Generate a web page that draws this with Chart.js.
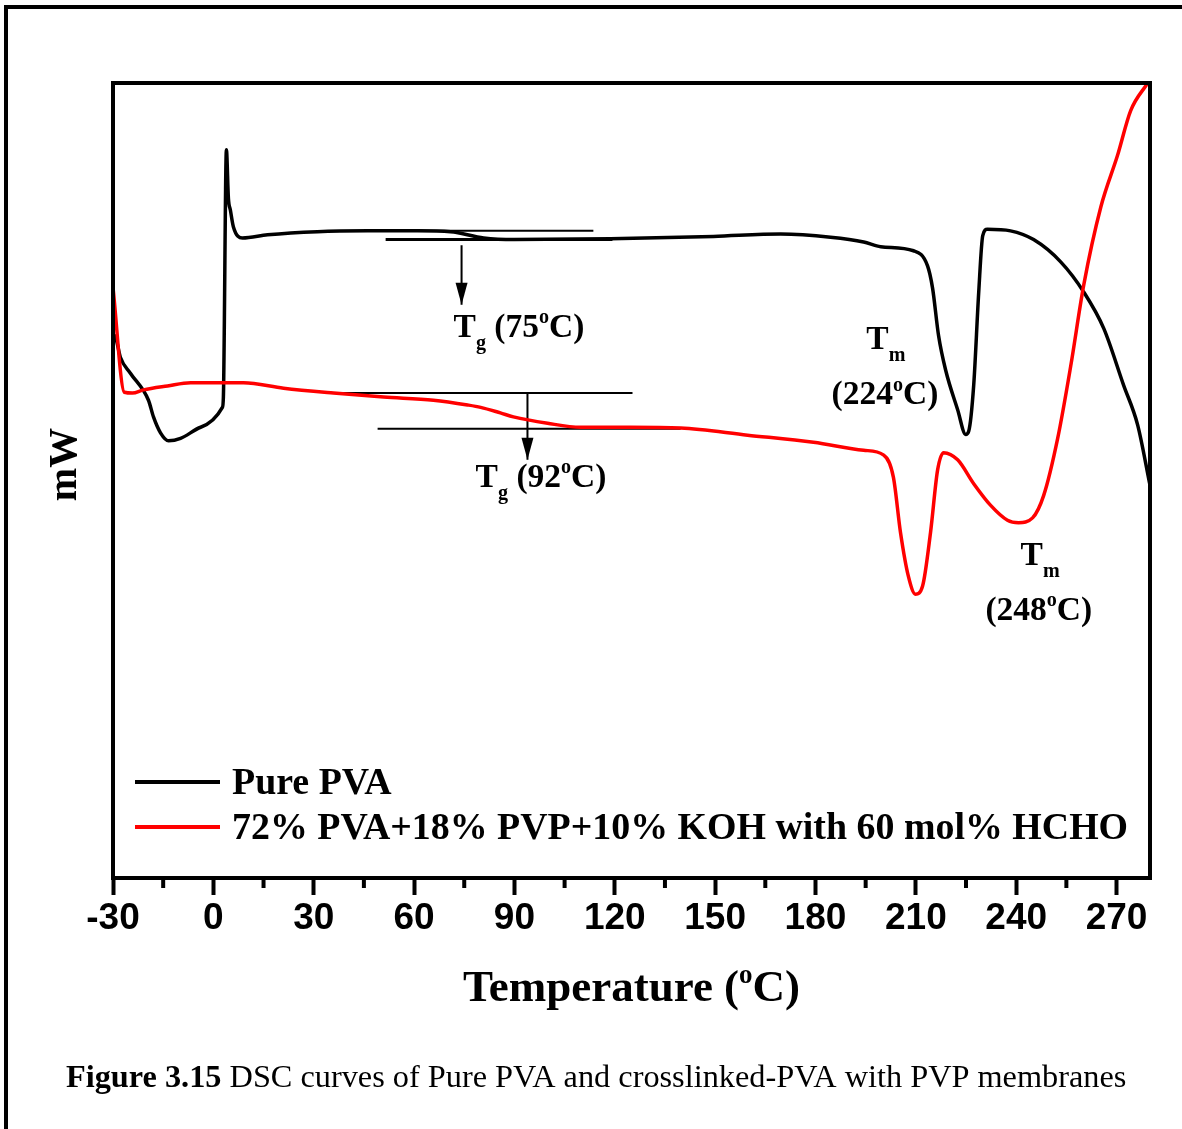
<!DOCTYPE html>
<html>
<head>
<meta charset="utf-8">
<title>DSC curves</title>
<style>
    body { margin: 0; background: #fff; }
    canvas { display: block; }
</style>
</head>
<body>
<canvas id="myChart" width="1182" height="1129"></canvas>
<script src="https://cdn.jsdelivr.net/npm/chart.js"></script>
<script>
// values; heat flow is in arbitrary units (axis has no numbers)
const pvaTemp = [-30, -29.3, -27.8, -24.8, -19.4, -17.9, -15.8, -13.4, -9.8, -3.8, 2.7, 3.0, 3.9, 4.5, 5.1, 6.0, 8.7,
    16.2, 31.1, 46.1, 61.0, 70.9, 80.8, 90, 118.7, 149.5, 169.6, 184.5, 194.4, 199.5, 209.3, 213.5, 215.0, 216.8,
    218.9, 222.5, 224.9, 225.8, 227.3, 228.8, 230.0, 231.4, 238.3, 245.2, 253.3, 260.2, 266.2, 272.1, 276.3, 280];
const pvaFlow = [68.3, 68.1, 65.5, 63.5, 60.1, 58.0, 56.0, 55.0, 55.3, 56.7, 59.2, 60.5, 91.6, 85.5, 84.0, 81.9, 80.5,
    80.9, 81.3, 81.4, 81.4, 81.3, 80.5, 80.3, 80.4, 80.7, 81.0, 80.6, 80.0, 79.4, 78.9, 77.0, 74.2, 68.2,
    63.9, 58.9, 55.8, 56.2, 62.0, 73.7, 80.8, 81.6, 81.4, 80.3, 77.5, 73.7, 69.1, 62.0, 57.0, 49.4];

const blendTemp = [-30, -26.6, -24.2, -20.9, -13.7, -6.8, 1.2, 9.0, 21.0, 35.9, 50.9, 65.8, 76.0, 79.9, 85.8, 89.7,
    99.9, 109.8, 124.7, 139.7, 159.7, 179.4, 194.4, 200.4, 203.3, 205.4, 207.8, 209.9, 212.0, 214.4, 216.5, 218.3,
    222.5, 227.3, 232.3, 237.4, 240.7, 244.9, 248.2, 252.4, 256.3, 260.2, 265.3, 270.3, 274.2, 279.3];
const blendFlow = [74.3, 61.1, 61.0, 61.4, 61.9, 62.3, 62.3, 62.3, 61.6, 61.0, 60.5, 60.1, 59.5, 59.2, 58.5, 58.0,
    57.2, 56.7, 56.7, 56.6, 55.7, 54.8, 53.8, 53.2, 50.4, 43.5, 37.9, 35.7, 36.7, 43.5, 51.3, 53.5,
    52.6, 49.6, 46.9, 45.0, 44.7, 45.3, 48.1, 55.3, 64.4, 74.6, 84.4, 90.9, 96.5, 100];

// Tg construction lines and arrows
const pvaTanUpperT = [51.5, 113.6];
const pvaTanUpperY = [81.4, 81.4];
const pvaTanLowerT = [51.5, 119.3];
const pvaTanLowerY = [80.3, 80.3];
const pvaArrowT = [74.2, 74.2];
const pvaArrowY = [79.6, 72.1];
const blendTanUpperT = [35.6, 125.3];
const blendTanUpperY = [61.0, 61.0];
const blendTanLowerT = [49.1, 139.7];
const blendTanLowerY = [56.5, 56.5];
const blendArrowT = [93.9, 93.9];
const blendArrowY = [61.0, 52.6];

const majorTicks = [-30, 0, 30, 60, 90, 120, 150, 180, 210, 240, 270];
const minorTicks = [-15, 15, 45, 75, 105, 135, 165, 195, 225, 255];

const seriesNames = ['Pure PVA', '72% PVA+18% PVP+10% KOH with 60 mol% HCHO'];

// text annotations: [text, style] pieces, anchored at (temperature, flow)
const notes = [
    { t: 71.8, v: 68.1, parts: [['T'], ['g', 'sub'], [' (75'], ['o', 'sup'], ['C)']] },
    { t: 78.4, v: 49.2, parts: [['T'], ['g', 'sub'], [' (92'], ['o', 'sup'], ['C)']] },
    { t: 195.2, v: 66.5, parts: [['T'], ['m', 'sub']] },
    { t: 184.8, v: 59.6, parts: [['(224'], ['o', 'sup'], ['C)']] },
    { t: 241.3, v: 39.4, parts: [['T'], ['m', 'sub']] },
    { t: 230.8, v: 32.5, parts: [['(248'], ['o', 'sup'], ['C)']] }
];

const serif = '"Liberation Serif", "Times New Roman", serif';

function pts(xs, ys) {
    return xs.map((x, i) => ({ x, y: ys[i] }));
}

function richWidth(ctx, parts, size) {
    let w = 0;
    parts.forEach(p => {
        const s = p[1] ? size * 0.6 : size;
        ctx.font = `bold ${s}px ${serif}`;
        w += ctx.measureText(p[0]).width;
    });
    return w;
}

function drawRich(ctx, parts, x, y, size) {
    let cx = x;
    parts.forEach(p => {
        const s = p[1] ? size * 0.6 : size;
        ctx.font = `bold ${s}px ${serif}`;
        let dy = 0;
        if (p[1] === 'sub') dy = size * 0.36;
        if (p[1] === 'sup') dy = -size * 0.4;
        ctx.fillText(p[0], cx, y + dy);
        cx += ctx.measureText(p[0]).width;
    });
}

const decorations = {
    id: 'decorations',
    afterDraw(chart) {
        const ctx = chart.ctx;
        const area = chart.chartArea;
        const xs = chart.scales.x;
        const ys = chart.scales.y;
        ctx.save();
        ctx.fillStyle = '#000';
        ctx.strokeStyle = '#000';

        // page frame
        ctx.lineWidth = 4;
        ctx.beginPath();
        ctx.moveTo(6, chart.height);
        ctx.lineTo(6, 7);
        ctx.lineTo(chart.width, 7);
        ctx.stroke();

        // plot frame
        ctx.strokeRect(area.left, area.top, area.right - area.left, area.bottom - area.top);

        // minor ticks
        minorTicks.forEach(v => {
            const px = xs.getPixelForValue(v);
            ctx.beginPath();
            ctx.moveTo(px, area.bottom);
            ctx.lineTo(px, area.bottom + 10);
            ctx.stroke();
        });

        // arrow heads
        chart.data.datasets.forEach((ds, i) => {
            if (!ds.arrow) return;
            const meta = chart.getDatasetMeta(i);
            const tip = meta.data[meta.data.length - 1];
            ctx.beginPath();
            ctx.moveTo(tip.x, tip.y);
            ctx.lineTo(tip.x - 6, tip.y - 22);
            ctx.lineTo(tip.x + 6, tip.y - 22);
            ctx.closePath();
            ctx.fill();
        });

        // annotations
        ctx.textAlign = 'left';
        ctx.textBaseline = 'alphabetic';
        notes.forEach(n => {
            drawRich(ctx, n.parts, xs.getPixelForValue(n.t), ys.getPixelForValue(n.v), 33.5);
        });

        // legend inside the plot
        const legendRows = [area.bottom - 96, area.bottom - 51];
        chart.data.datasets.slice(0, 2).forEach(ds => {
            const row = legendRows[ds.legendRow];
            ctx.strokeStyle = ds.borderColor;
            ctx.lineWidth = 4;
            ctx.beginPath();
            ctx.moveTo(area.left + 22, row);
            ctx.lineTo(area.left + 107, row);
            ctx.stroke();
            ctx.font = `bold 37.9px ${serif}`;
            ctx.textBaseline = 'middle';
            ctx.fillText(ds.label, area.left + 119, row + 2);
        });

        // x axis title
        ctx.textBaseline = 'alphabetic';
        const title = [['Temperature ('], ['o', 'sup'], ['C)']];
        const tw = richWidth(ctx, title, 45);
        drawRich(ctx, title, (area.left + area.right) / 2 - tw / 2, area.bottom + 123, 45);

        // y axis title
        ctx.save();
        ctx.translate(76, (area.top + area.bottom) / 2 - 16);
        ctx.rotate(-Math.PI / 2);
        ctx.font = `bold 40px ${serif}`;
        ctx.textAlign = 'center';
        ctx.fillText('mW', 0, 0);
        ctx.restore();

        // caption
        ctx.textAlign = 'left';
        ctx.font = `bold 32.3px ${serif}`;
        ctx.fillText('Figure 3.15', 66, 1087);
        const fw = ctx.measureText('Figure 3.15').width;
        ctx.font = `32.3px ${serif}`;
        ctx.fillText(' DSC curves of Pure PVA and crosslinked-PVA with PVP membranes', 66 + fw, 1087);

        ctx.restore();
    }
};

const guide = { borderColor: '#000', pointRadius: 0, fill: false, tension: 0, order: 5 };

new Chart(document.getElementById('myChart'), {
    type: 'line',
    data: {
        datasets: [
            {
                label: seriesNames[0],
                legendRow: 0,
                data: pts(pvaTemp, pvaFlow),
                borderColor: '#000000',
                borderWidth: 3.5,
                pointRadius: 0,
                cubicInterpolationMode: 'monotone',
                order: 2
            },
            {
                label: seriesNames[1],
                legendRow: 1,
                data: pts(blendTemp, blendFlow),
                borderColor: '#ff0000',
                borderWidth: 3.5,
                pointRadius: 0,
                cubicInterpolationMode: 'monotone',
                order: 1
            },
            { ...guide, data: pts(pvaTanUpperT, pvaTanUpperY), borderWidth: 2 },
            { ...guide, data: pts(pvaTanLowerT, pvaTanLowerY), borderWidth: 3 },
            { ...guide, data: pts(pvaArrowT, pvaArrowY), borderWidth: 2, arrow: true },
            { ...guide, data: pts(blendTanUpperT, blendTanUpperY), borderWidth: 2 },
            { ...guide, data: pts(blendTanLowerT, blendTanLowerY), borderWidth: 2 },
            { ...guide, data: pts(blendArrowT, blendArrowY), borderWidth: 2, arrow: true }
        ]
    },
    options: {
        responsive: false,
        animation: false,
        layout: { padding: { left: 113, top: 83, right: 32, bottom: 151 } },
        plugins: {
            legend: { display: false },
            tooltip: { enabled: false }
        },
        scales: {
            x: {
                type: 'linear',
                min: -30,
                max: 280,
                afterBuildTicks: scale => {
                    scale.ticks = majorTicks.map(v => ({ value: v }));
                },
                afterFit: scale => { scale.height = 100; },
                border: { display: false },
                grid: {
                    drawOnChartArea: false,
                    drawTicks: true,
                    tickLength: 17,
                    tickWidth: 4,
                    tickColor: '#000'
                },
                ticks: {
                    autoSkip: false,
                    maxRotation: 0,
                    padding: 2,
                    color: '#000',
                    font: { family: '"Liberation Sans", Arial, sans-serif', size: 37, weight: 'bold' }
                }
            },
            y: {
                display: false,
                min: 0,
                max: 100
            }
        }
    },
    plugins: [decorations]
});
</script>
</body>
</html>
